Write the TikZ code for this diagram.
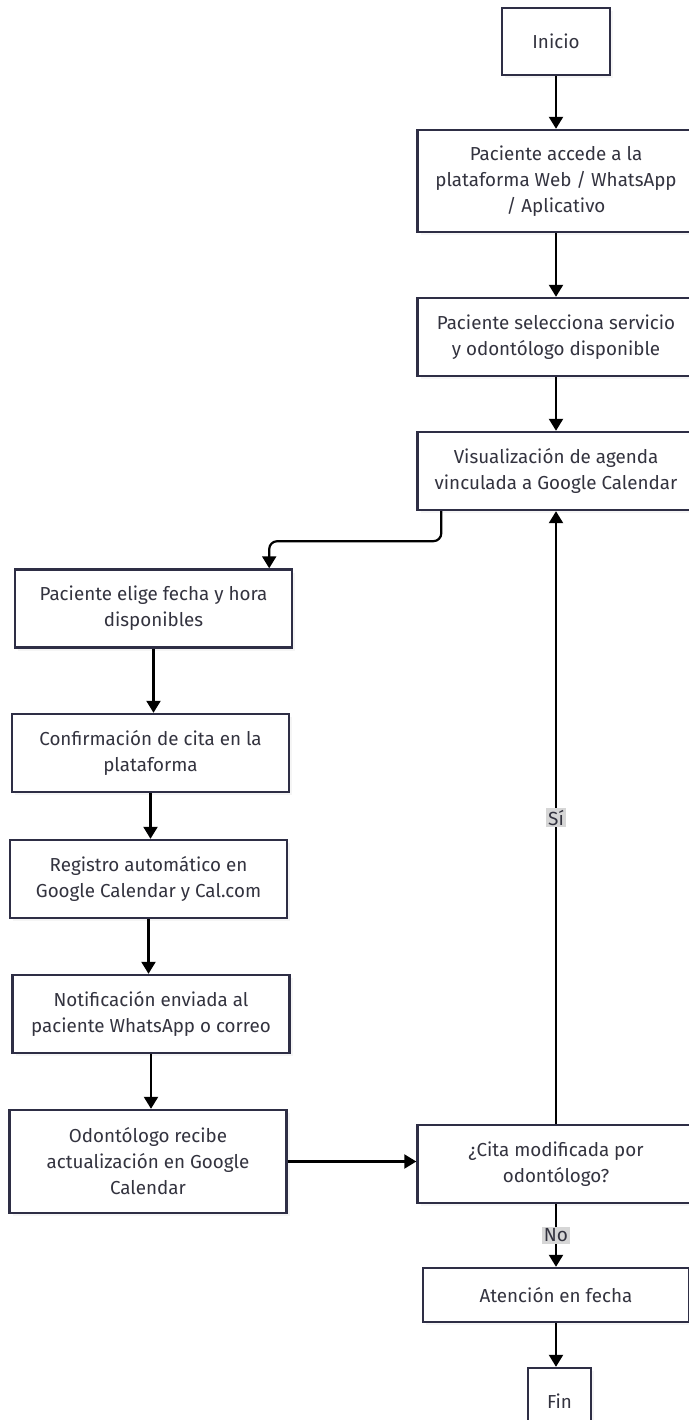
\documentclass[tikz,border=0pt]{standalone}
\usepackage{fontspec}
\setmainfont{Fira Sans}
\usetikzlibrary{arrows.meta,shadows}
\definecolor{borde}{HTML}{2E2E45}
\definecolor{texto}{HTML}{33333F}
\definecolor{etiq}{HTML}{D6D6D6}

\begin{document}
\begin{tikzpicture}[x=1pt,y=-1pt,
    caja/.style={draw=borde, line width=2.4pt, fill=white, text=texto, align=center,
      font=\fontsize{18.8}{26}\selectfont, minimum width=277pt, minimum height=78pt,
      inner sep=0pt, drop shadow={shadow xshift=3pt, shadow yshift=-3pt, fill=black!7}},
    flecha/.style={line width=2.2pt, -{Triangle[width=14pt,length=12pt]}},
    etiqueta/.style={fill=etiq, text=texto, font=\fontsize{19}{22}\selectfont, inner sep=2pt}]

        % Fondo y margenes
        \fill[white] (0,0) rectangle (688,1420);
        \useasboundingbox (0,0) rectangle (688,1420);

        % Columna derecha
        \node[caja, minimum width=108pt, minimum height=67pt] (inicio) at (556,41.5) {Inicio};
        \node[caja, minimum height=102pt] (accede) at (556,181) {Paciente accede a la\\plataforma Web / WhatsApp\\/ Aplicativo};
        \node[caja] (selecciona) at (556,337) {Paciente selecciona servicio\\y odontólogo disponible};
        \node[caja] (agenda) at (556,471) {Visualización de agenda\\vinculada a Google Calendar};

        % Columna izquierda
        \node[caja] (elige) at (153.5,608.5) {Paciente elige fecha y hora\\disponibles};
        \node[caja] (confirma) at (150.5,753) {Confirmación de cita en la\\plataforma};
        \node[caja] (registro) at (148.5,879) {Registro automático en\\Google Calendar y Cal.com};
        \node[caja] (notifica) at (151,1014) {Notificación enviada al\\paciente WhatsApp o correo};
        \node[caja, minimum height=103pt] (recibe) at (148,1161.5) {Odontólogo recibe\\actualización en Google\\Calendar};

        % Decision y final
        \node[caja] (modificada) at (556,1164) {¿Cita modificada por\\odontólogo?};
        \node[caja, minimum width=266pt, minimum height=54pt] (atencion) at (556,1295) {Atención en fecha};
        \node[caja, minimum width=63pt, minimum height=67pt] (fin) at (559.5,1401.5) {Fin};

        % Flechas
        \draw[flecha] (inicio) -- (accede);
        \draw[flecha] (accede) -- (selecciona);
        \draw[flecha] (selecciona) -- (agenda);
        \draw[flecha, rounded corners=8pt] ([xshift=25pt]agenda.south west) -- ++(0,30) -| ([xshift=-24pt]elige.north east);
        \draw[flecha] (elige.south) -- (elige.south |- confirma.north);
        \draw[flecha] (confirma.south) -- (confirma.south |- registro.north);
        \draw[flecha] (registro.south) -- (registro.south |- notifica.north);
        \draw[flecha] (notifica.south) -- (notifica.south |- recibe.north);
        \draw[flecha] (recibe.east) -- (recibe.east -| modificada.west);

        % Ramas de la decision
        \draw[flecha] (modificada) -- node[etiqueta] (si) {Sí} (agenda);
        \draw[flecha] (modificada) -- node[etiqueta] (no) {No} (atencion);
        \draw[flecha] (atencion.south) -- (atencion.south |- fin.north);
    \end{tikzpicture}
\end{document}
